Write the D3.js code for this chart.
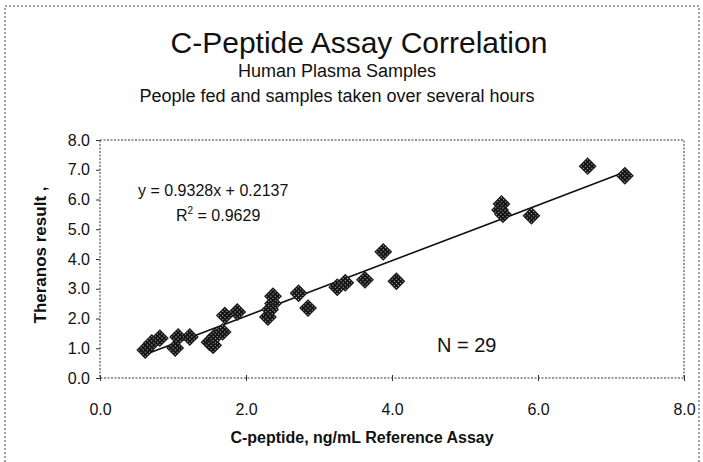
<!DOCTYPE html>
<html>
<head>
<meta charset="utf-8">
<script src="https://cdn.jsdelivr.net/npm/d3@7"></script>
<style>
  body { margin: 0; background: #fff; }
  text { font-family: Arial, "Liberation Sans", sans-serif; fill: #111; }
</style>
</head>
<body>
<svg id="svg"></svg>
<script>
// reference assay values (x) and Theranos results (y), 29 samples
let refAssay = [0.62, 0.71, 0.82, 1.03, 1.07, 1.23, 1.50, 1.55, 1.58, 1.68, 1.71, 1.88,
    2.30, 2.33, 2.37, 2.37, 2.72, 2.85, 3.25, 3.36, 3.63, 3.88, 4.06, 5.50, 5.48, 5.52, 5.91, 6.68, 7.19]
let theranos = [0.94, 1.18, 1.34, 1.01, 1.38, 1.38, 1.20, 1.10, 1.40, 1.55, 2.10, 2.22,
    2.05, 2.30, 2.50, 2.75, 2.85, 2.35, 3.05, 3.20, 3.30, 4.24, 3.25, 5.85, 5.65, 5.50, 5.45, 7.12, 6.80]
let xTicks = [0, 2, 4, 6, 8]
let yTicks = [0, 1, 2, 3, 4, 5, 6, 7, 8]
let slope = 0.9328
let intercept = 0.2137
let rSquared = '0.9629'
let nSamples = 29

let W = 703, H = 462
let svg = d3.select('#svg').attr('width', W).attr('height', H)
let plotL = 100, plotR = 684, plotT = 140, plotB = 378

let points = refAssay.map((v, i) => ({ x: v, y: theranos[i] }))

//scales
let x = d3.scaleLinear().domain([0, 8]).range([plotL, plotR])
let y = d3.scaleLinear().domain([0, 8]).range([plotB, plotT])

//outer frame
svg.append('rect')
    .attr('x', 5).attr('y', 6).attr('width', 694).attr('height', 470)
    .attr('fill', 'none').attr('stroke', '#444').attr('stroke-width', 1)
    .attr('stroke-dasharray', '2,2')

//checkered fill for markers
let pat = svg.append('defs').append('pattern')
    .attr('id', 'chk').attr('width', 3).attr('height', 3)
    .attr('patternUnits', 'userSpaceOnUse')
pat.append('rect').attr('width', 3).attr('height', 3).attr('fill', '#151515')
pat.append('rect').attr('x', 1).attr('y', 1).attr('width', 1).attr('height', 1).attr('fill', '#c8c8c8')

//titles
svg.append('text').attr('x', 359).attr('y', 53).attr('text-anchor', 'middle')
    .style('font-size', '30px').text('C-Peptide Assay Correlation')
svg.append('text').attr('x', 337).attr('y', 77).attr('text-anchor', 'middle')
    .style('font-size', '18px').text('Human Plasma Samples')
svg.append('text').attr('x', 337).attr('y', 102).attr('text-anchor', 'middle')
    .style('font-size', '18px').text('People fed and samples taken over several hours')

//plot border (dotted)
svg.append('rect')
    .attr('x', plotL).attr('y', plotT).attr('width', plotR - plotL).attr('height', plotB - plotT)
    .attr('fill', 'none').attr('stroke', '#333').attr('stroke-dasharray', '2,1.5')

//axes
let xAxis = d3.axisBottom(x).tickValues(xTicks).tickSize(4).tickFormat(d3.format('.1f'))
let yAxis = d3.axisLeft(y).tickValues(yTicks).tickSize(4).tickFormat(d3.format('.1f'))

let xGroup = svg.append('g').attr('transform', `translate(0,${plotB})`).call(xAxis)
let yGroup = svg.append('g').attr('transform', `translate(${plotL},0)`).call(yAxis)
xGroup.select('.domain').remove()
yGroup.select('.domain').remove()
xGroup.selectAll('.tick line').attr('stroke', '#333').attr('y1', -3).attr('y2', 3)
yGroup.selectAll('.tick line').attr('stroke', '#333')
xGroup.selectAll('.tick text').attr('y', 26).style('font-size', '16px')
    .style('font-family', 'Arial, "Liberation Sans", sans-serif').attr('fill', '#111')
yGroup.selectAll('.tick text').attr('x', -10).style('font-size', '16px')
    .style('font-family', 'Arial, "Liberation Sans", sans-serif').attr('fill', '#111')

//axis captions
svg.append('text').attr('x', 362).attr('y', 443).attr('text-anchor', 'middle')
    .style('font-size', '16px').style('font-weight', 'bold')
    .text('C-peptide, ng/mL Reference Assay')
svg.append('text').attr('transform', 'translate(46,255) rotate(-90)').attr('text-anchor', 'middle')
    .style('font-size', '17px').style('font-weight', 'bold')
    .text('Theranos result ,')

//trend line
let xMin = d3.min(refAssay), xMax = d3.max(refAssay)
svg.append('line')
    .attr('x1', x(xMin)).attr('y1', y(slope * xMin + intercept))
    .attr('x2', x(xMax)).attr('y2', y(slope * xMax + intercept))
    .attr('stroke', '#111').attr('stroke-width', 1.6)

//markers
svg.append('g').selectAll('path')
    .data(points)
    .join('path')
    .attr('d', d3.symbol().type(d3.symbolSquare).size(160))
    .attr('transform', d => `translate(${x(d.x)},${y(d.y)}) rotate(45)`)
    .attr('fill', 'url(#chk)')

//annotations
svg.append('text').attr('x', 138).attr('y', 196).style('font-size', '16px')
    .text(`y = ${slope}x + ${intercept}`)
let r2 = svg.append('text').attr('x', 176).attr('y', 221).style('font-size', '16px')
r2.append('tspan').text('R')
r2.append('tspan').attr('dy', -7).style('font-size', '10px').text('2')
r2.append('tspan').attr('dy', 7).text(` = ${rSquared}`)
svg.append('text').attr('x', 437).attr('y', 352).style('font-size', '20px')
    .text(`N = ${nSamples}`)
</script>
</body>
</html>
